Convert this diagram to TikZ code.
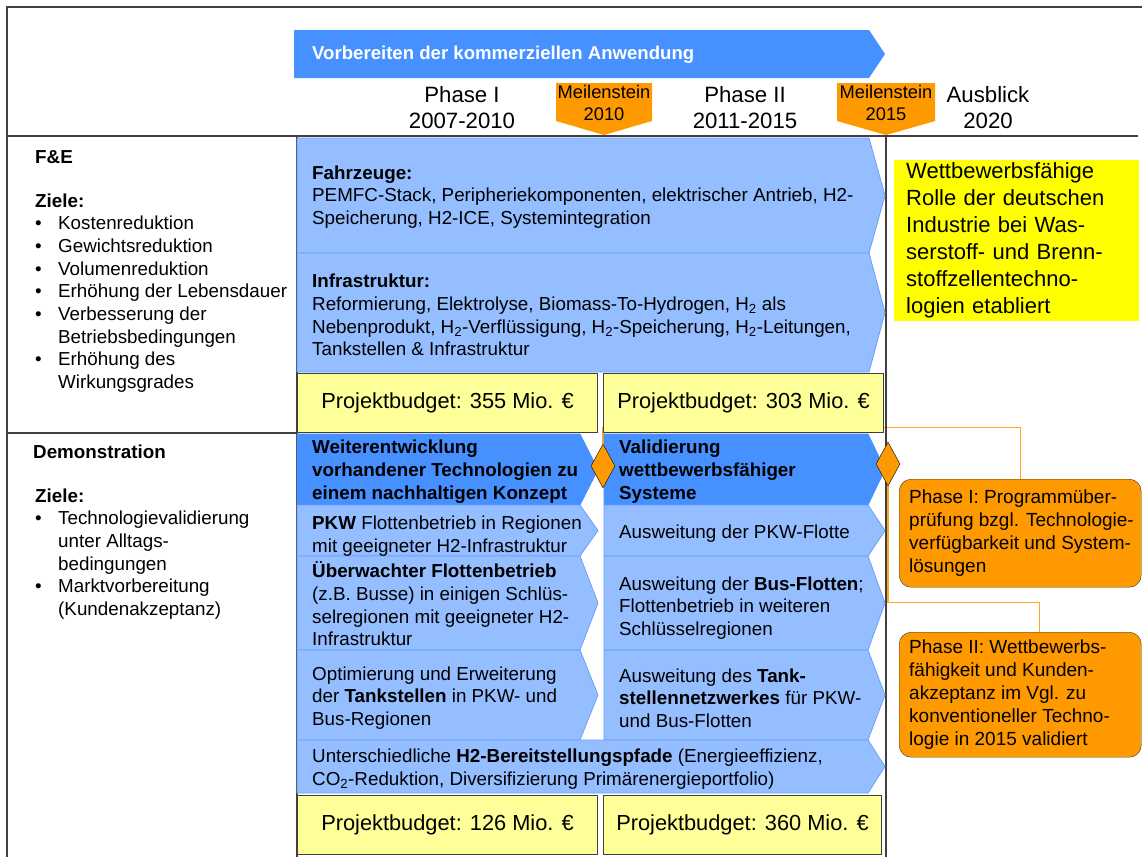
\documentclass[tikz,border=0pt]{standalone}
\usepackage{fontspec}
\setmainfont{Liberation Sans}
\usetikzlibrary{shapes.geometric,backgrounds}
\definecolor{hellblau}{RGB}{148,190,255}
\definecolor{dunkelblau}{RGB}{70,145,255}
\definecolor{blaurand}{RGB}{105,160,250}
\definecolor{orangeton}{RGB}{255,153,0}
\definecolor{gelb}{RGB}{255,255,0}
\definecolor{hellgelb}{RGB}{255,255,153}

\begin{document}
\begin{tikzpicture}[x=1pt,y=-1pt,
  rahmen/.style={draw=black!75,line width=1.5pt},
  hb/.style={fill=hellblau,draw=blaurand,line width=0.8pt},
  db/.style={fill=dunkelblau,draw=dunkelblau,line width=0.8pt},
  txt/.style={inner sep=0pt,align=left,font=\fontsize{18.8}{22.7}\selectfont},
  fett/.style={txt,font=\bfseries\fontsize{18.8}{23}\selectfont},
  phase/.style={inner sep=0pt,align=center,font=\fontsize{22.2}{26}\selectfont},
  budget/.style={draw=black!75,line width=1pt,fill=hellgelb,minimum height=59pt,inner sep=0pt,anchor=north west,font=\fontsize{21.8}{26}\selectfont},
  ms/.style={diamond,draw=black,fill=orangeton,minimum width=24pt,minimum height=44pt,inner sep=0pt},
  hinweis/.style={draw=black!80,fill=orangeton,rounded corners=12pt,anchor=north west,minimum width=242pt,inner sep=0pt,font=\fontsize{19}{23}\selectfont},
  conn/.style={draw=orangeton!85!white,line width=1.2pt}]
\useasboundingbox (0,0) rectangle (1142,857);
\draw[rahmen] (1142,7) -- (7,7) -- (7,857);
\draw[rahmen] (7,136) -- (1138,136);
\draw[rahmen] (7,433) -- (297,433);
\draw[rahmen] (297,136) -- (297,857);
\draw[rahmen] (886,136) -- (886,857);

\fill[dunkelblau] (294,30) -- (869,30) -- (885,54) -- (869,78) -- (294,78) -- cycle;
\node[txt,anchor=west,text=white,font=\bfseries\fontsize{18.6}{22}\selectfont] (banner) at (312,55) {Vorbereiten der kommerziellen Anwendung};
\fill[orangeton] (556,83) -- (652,83) -- (652,121) -- (604,135) -- (556,121) -- cycle;
\fill[orangeton] (837,83) -- (935,83) -- (935,121) -- (886,135) -- (837,121) -- cycle;
\node[phase] (p1) at (462,108) {Phase I\\2007-2010};
\node[phase,font=\fontsize{18.3}{22}\selectfont] (m2010) at (604,103) {Meilenstein\\2010};
\node[phase] (p2) at (745,108) {Phase II\\2011-2015};
\node[phase,font=\fontsize{18.3}{22}\selectfont] (m2015) at (886,103) {Meilenstein\\2015};
\node[phase] (p3) at (988,108) {Ausblick\\2020};

\node[txt,anchor=north west,font=\bfseries\fontsize{18.8}{22.7}\selectfont] (fe) at (35,150) {F\&E};
\node[txt,anchor=north west] (feziele) at (35,191) {\begin{tabular}{@{}p{23pt}@{}l@{}}
\multicolumn{2}{@{}l@{}}{\textbf{Ziele:}}\\
\textbullet & Kostenreduktion\\
\textbullet & Gewichtsreduktion\\
\textbullet & Volumenreduktion\\
\textbullet & Erhöhung der Lebensdauer\\
\textbullet & Verbesserung der\\
 & Betriebsbedingungen\\
\textbullet & Erhöhung des\\
 & Wirkungsgrades
\end{tabular}};
\node[txt,anchor=north west,font=\bfseries\fontsize{18.8}{22.7}\selectfont] (demo) at (33,445) {Demonstration};
\node[txt,anchor=north west] (demoziele) at (35,486) {\begin{tabular}{@{}p{23pt}@{}l@{}}
\multicolumn{2}{@{}l@{}}{\textbf{Ziele:}}\\
\textbullet & Technologievalidierung\\
 & unter Alltags-\\
 & bedingungen\\
\textbullet & Marktvorbereitung\\
 & (Kundenakzeptanz)
\end{tabular}};

\draw[hb] (297,138) -- (869,138) -- (885,195.5) -- (869,253) -- (297,253) -- cycle;
\draw[hb] (297,253) -- (869,253) -- (885,312.5) -- (869,372) -- (297,372) -- cycle;
\node[txt,anchor=west] (fahrzeuge) at (312,197) {\textbf{Fahrzeuge:}\\PEMFC-Stack, Peripheriekomponenten, elektrischer Antrieb, H2-\\Speicherung, H2-ICE, Systemintegration};
\node[txt,anchor=west] (infra) at (312,315) {\textbf{Infrastruktur:}\\Reformierung, Elektrolyse, Biomass-To-Hydrogen, H\textsubscript{2} als\\Nebenprodukt, H\textsubscript{2}-Verflüssigung, H\textsubscript{2}-Speicherung, H\textsubscript{2}-Leitungen,\\Tankstellen \& Infrastruktur};
\node[budget,minimum width=300pt] (b1) at (297,373) {Projektbudget: 355 Mio. €};
\node[budget,minimum width=280pt] (b2) at (603,373) {Projektbudget: 303 Mio. €};

\draw[db] (297,434) -- (580,434) -- (598,469.5) -- (580,505) -- (297,505) -- cycle;
\draw[db] (604,434) -- (868,434) -- (885,469.5) -- (868,505) -- (604,505) -- cycle;
\foreach \ya/\yb in {505/556,556/650,650/740} {
  \draw[hb] (297,\ya) -- (580,\ya) -- (598,{(\ya+\yb)/2}) -- (580,\yb) -- (297,\yb) -- cycle;
  \draw[hb] (604,\ya) -- (868,\ya) -- (885,{(\ya+\yb)/2}) -- (868,\yb) -- (604,\yb) -- cycle;
}
\draw[hb] (297,740) -- (868,740) -- (885,766.5) -- (868,793) -- (297,793) -- cycle;
\node[fett,anchor=west] (weiter) at (312,472) {Weiterentwicklung\\vorhandener Technologien zu\\einem nachhaltigen Konzept};
\node[fett,anchor=west] (valid) at (619,472) {Validierung\\wettbewerbsfähiger\\Systeme};
\node[txt,anchor=west] (pkw) at (312,536) {\textbf{PKW} Flottenbetrieb in Regionen\\mit geeigneter H2-Infrastruktur};
\node[txt,anchor=west] (pkwflotte) at (619,534) {Ausweitung der PKW-Flotte};
\node[txt,anchor=west] (bus) at (312,604) {\textbf{Überwachter Flottenbetrieb}\\(z.B. Busse) in einigen Schlüs-\\selregionen mit geeigneter H2-\\Infrastruktur};
\node[txt,anchor=west] (busflotte) at (619,608) {Ausweitung der \textbf{Bus-Flotten};\\Flottenbetrieb in weiteren\\Schlüsselregionen};
\node[txt,anchor=west] (tank) at (312,698) {Optimierung und Erweiterung\\der \textbf{Tankstellen} in PKW- und\\Bus-Regionen};
\node[txt,anchor=west] (tanknetz) at (619,698) {Ausweitung des \textbf{Tank-}\\\textbf{stellennetzwerkes} für PKW-\\und Bus-Flotten};
\node[txt,anchor=west] (bereit) at (312,769) {Unterschiedliche \textbf{H2-Bereitstellungspfade} (Energieeffizienz,\\CO\textsubscript{2}-Reduktion, Diversifizierung Primärenergieportfolio)};
\node[budget,minimum width=300pt] (b3) at (297,795) {Projektbudget: 126 Mio. €};
\node[budget,minimum width=278pt] (b4) at (603,795) {Projektbudget: 360 Mio. €};

\node[ms] (d1) at (603,466) {};
\node[ms] (d2) at (888,464) {};

\node[fill=gelb,anchor=north west,minimum width=245pt,minimum height=161pt,text width=221pt,inner xsep=12pt,inner ysep=0pt,align=left,font=\fontsize{22}{27}\selectfont] (ziel) at (894,160) {Wettbewerbsfähige\\Rolle der deutschen\\Industrie bei Was-\\serstoff- und Brenn-\\stoffzellentechno-\\logien etabliert};
\node[hinweis,minimum height=108pt] (pone) at (899,479) {\makebox[222pt][l]{\begin{tabular}{@{}l@{}}Phase I: Programmüber-\\prüfung bzgl. Technologie-\\verfügbarkeit und System-\\lösungen\end{tabular}}};
\node[hinweis,minimum height=125pt] (ptwo) at (899,632) {\makebox[222pt][l]{\begin{tabular}{@{}l@{}}Phase II: Wettbewerbs-\\fähigkeit und Kunden-\\akzeptanz im Vgl. zu\\konventioneller Techno-\\logie in 2015 validiert\end{tabular}}};

\begin{pgfonlayer}{background}
\draw[conn] (d1.north) -- ++(0,-16) -| (pone.north);
\draw[conn] (d2.south) -- ++(0,116) -| ([xshift=19pt]ptwo.north);
\end{pgfonlayer}
\end{tikzpicture}
\end{document}
